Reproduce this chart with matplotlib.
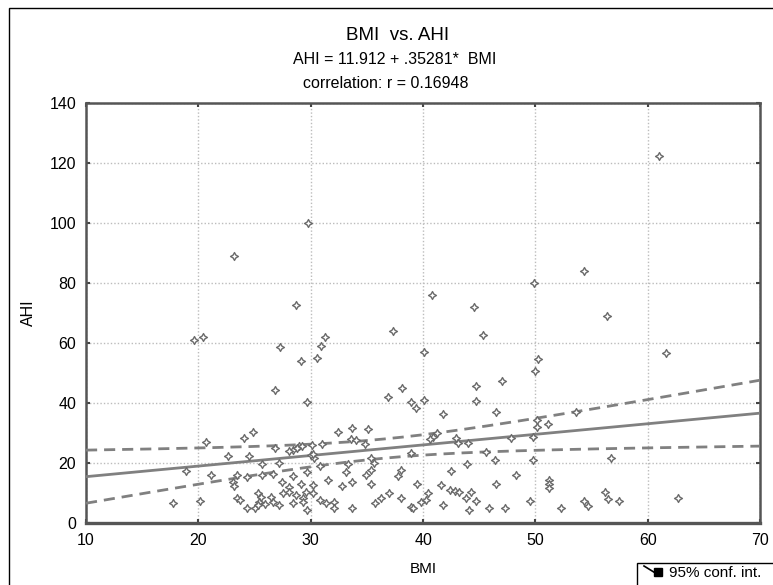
import numpy as np
import matplotlib
matplotlib.use("Agg")
import matplotlib.pyplot as plt
from matplotlib.lines import Line2D
from matplotlib.patches import Rectangle

# BMI / AHI pairs per patient
bmi = [
    61.0, 29.8, 23.2, 54.3, 49.9, 40.8, 28.7, 44.5, 56.4, 37.3, 45.3, 19.6, 20.4, 31.3,
    27.3, 30.9, 40.1, 29.1, 30.6, 50.2, 50.0, 61.6,
    47.0, 44.7, 26.8, 38.1, 36.9, 29.7, 38.9, 39.4, 40.1, 44.7, 46.5, 41.8, 53.6,
    50.1, 50.1, 51.1, 33.7, 35.1, 32.4, 24.9, 24.1, 20.7, 41.2, 40.9, 40.6, 42.9, 43.1,
    44.0, 47.8, 49.8,
    33.6, 34.0, 34.8, 31.0, 30.1, 29.0, 28.4, 28.1, 28.8, 29.2, 26.8, 22.6, 24.5, 25.7,
    27.2, 30.0, 30.3, 30.2, 30.8, 33.3, 35.4, 35.6, 38.9, 45.6, 46.4, 43.9, 49.8, 56.7,
    18.9, 21.1, 23.4, 24.3, 23.1, 23.2, 29.7, 28.4, 26.6, 25.7, 33.1, 34.9, 35.4, 38.0,
    37.8, 31.5, 33.7, 32.8, 35.4, 27.4, 28.1, 29.1, 30.2, 39.5, 42.5, 48.3, 51.2, 51.2,
    51.2, 46.5, 41.6, 42.4, 42.8, 43.2, 44.3, 56.2,
    17.7, 20.1, 23.4, 23.7, 24.3, 25.0, 25.3, 25.6, 26.5, 27.5, 28.1, 28.7, 29.6, 29.3,
    30.2, 25.4, 25.9, 26.6, 27.2, 28.4, 29.3, 29.7, 30.8, 31.4, 32.1, 32.1, 33.7, 35.7,
    36.3, 37.0, 38.0, 38.9, 39.1, 39.8, 25.3, 40.4, 40.3, 41.8, 43.8, 44.7, 44.1, 45.9,
    47.3, 49.5, 52.3, 54.3, 54.7, 56.5, 57.4, 62.7,
]
ahi = [
    122.4, 100.0, 89.0, 84.0, 80.0, 76.0, 72.5, 72.0, 69.0, 64.0, 62.5, 61.0, 62.0, 62.0,
    58.7, 59.0, 57.0, 54.0, 55.0, 54.5, 50.5, 56.5,
    47.3, 45.7, 44.3, 45.1, 41.9, 40.4, 40.4, 38.2, 41.0, 40.7, 37.1, 36.3, 37.1,
    34.3, 32.1, 32.9, 31.8, 31.3, 30.4, 30.4, 28.4, 27.1, 29.9, 28.8, 28.0, 28.4, 26.6,
    26.6, 28.4, 28.8,
    28.0, 27.7, 26.2, 26.3, 26.0, 25.7, 24.3, 24.0, 25.0, 25.5, 24.9, 22.3, 22.3, 19.6,
    20.1, 22.7, 21.6, 23.0, 19.1, 19.8, 21.8, 19.9, 23.2, 23.6, 21.0, 19.7, 21.0, 21.8,
    17.3, 16.0, 16.0, 15.4, 13.8, 12.4, 17.1, 15.5, 16.2, 16.0, 16.9, 16.0, 17.7, 17.7,
    15.5, 14.3, 13.8, 12.3, 12.9, 13.8, 12.1, 12.9, 12.5, 12.9, 17.3, 16.0, 14.3, 13.0,
    11.8, 13.0, 12.7, 11.0, 10.7, 10.4, 10.4, 10.4,
    6.6, 7.3, 8.4, 7.7, 4.9, 4.9, 9.9, 8.8, 8.8, 9.9, 10.4, 9.3, 10.4, 8.2,
    9.9, 7.1, 6.2, 7.1, 6.0, 6.6, 7.1, 4.3, 7.7, 6.6, 7.1, 4.9, 4.9, 6.6,
    8.2, 9.9, 8.2, 5.4, 4.9, 7.1, 6.0, 9.9, 7.7, 6.0, 8.2, 7.3, 4.3, 4.9,
    4.9, 7.3, 4.9, 7.3, 5.8, 7.9, 7.3, 8.2,
]

# fitted line as reported
intercept = 11.912
slope = 0.35281
r_value = 0.16948

x_ticks = [10, 20, 30, 40, 50, 60, 70]
y_ticks = [0, 20, 40, 60, 80, 100, 120, 140]

x = np.array(bmi)
y = np.array(ahi)
n = len(x)

# 95% confidence band for the regression mean
xs = np.linspace(10, 70, 300)
fit = intercept + slope * xs
resid = y - (intercept + slope * x)
s = np.sqrt(np.sum(resid ** 2) / (n - 2))
sxx = np.sum((x - x.mean()) ** 2)
half = 1.97 * s * np.sqrt(1 / n + (xs - x.mean()) ** 2 / sxx)

plt.rcParams["font.family"] = ["Liberation Sans", "DejaVu Sans"]

fig = plt.figure(figsize=(7.73, 5.85), dpi=100)
ax = fig.add_axes([0.1113, 0.106, 0.872, 0.718])

gray = "#6a6a6a"
ax.plot(xs, fit, color="#808080", lw=2.0, zorder=3)
ax.plot(xs, fit + half, color="#808080", lw=2.0, ls=(0, (4, 2.5)), zorder=3)
ax.plot(xs, fit - half, color="#808080", lw=2.0, ls=(0, (4, 2.5)), zorder=3)
ax.scatter(x, y, marker=(4, 1, 0), s=32, facecolors="white", edgecolors=gray,
           linewidths=1.0, zorder=4)

ax.set_xlim(10, 70)
ax.set_ylim(0, 140)
ax.set_xticks(x_ticks)
ax.set_yticks(y_ticks)
ax.grid(True, color="#bcbcbc", ls=(0, (1, 1.5)), lw=1.0)
ax.set_axisbelow(True)
ax.tick_params(direction="in", length=3, width=1.5, color="#444444",
               labelsize=11.5, top=True, right=True)
ax.tick_params(axis="y", pad=7)
ax.tick_params(axis="x", pad=7)
for sp in ax.spines.values():
    sp.set_color("#555555")
    sp.set_linewidth(1.8)
ax.spines["bottom"].set_linewidth(2.4)

ax.set_xlabel("BMI", fontsize=11, labelpad=10)
ax.set_ylabel("AHI", fontsize=11.5, labelpad=10)

fig.text(0.514, 0.940, "BMI  vs. AHI", ha="center", va="center", fontsize=13.5)
fig.text(0.510, 0.899, "AHI = 11.912 + .35281*  BMI", ha="center", va="center", fontsize=11.5)
fig.text(0.499, 0.857, f"correlation: r = {r_value}", ha="center", va="center", fontsize=11.5)

# outer frame of the graph window
fig.add_artist(Rectangle((9 / 773, -0.01), 1.0, 0.996, transform=fig.transFigure,
                         fill=False, edgecolor="black", lw=1.0))

# legend box in the lower right corner
fig.add_artist(Rectangle((637 / 773, -0.01), 0.2, 22 / 585 + 0.01, transform=fig.transFigure,
                         fill=False, edgecolor="black", lw=1.0))
fig.add_artist(Line2D([644 / 773, 657 / 773], [1 - 566 / 585, 1 - 574 / 585],
                      transform=fig.transFigure, color="black", lw=1.2))
fig.add_artist(Line2D([658 / 773], [1 - 572 / 585], transform=fig.transFigure,
                      marker="s", ms=6, color="black"))
fig.text(669 / 773, 1 - 573 / 585, "95% conf. int.", ha="left", va="center", fontsize=11)

fig.savefig("out.png", dpi=100)
